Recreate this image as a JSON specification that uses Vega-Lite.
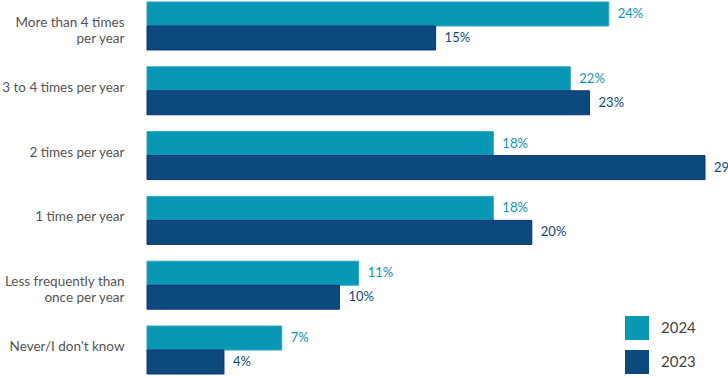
{
  "$schema": "https://vega.github.io/schema/vega-lite/v6.json",
  "width": 558,
  "height": 372,
  "autosize": {"type": "none"},
  "padding": {"left": 147, "top": 2, "right": 23, "bottom": 4},
  "background": "white",
  "config": {"view": {"stroke": null}, "font": "Lato"},
  "data": {
    "values": [
      {"cat": "More than 4 times|per year", "year": "2024", "v": 0.24},
      {"cat": "More than 4 times|per year", "year": "2023", "v": 0.15},
      {"cat": "3 to 4 times per year", "year": "2024", "v": 0.22},
      {"cat": "3 to 4 times per year", "year": "2023", "v": 0.23},
      {"cat": "2 times per year", "year": "2024", "v": 0.18},
      {"cat": "2 times per year", "year": "2023", "v": 0.29},
      {"cat": "1 time per year", "year": "2024", "v": 0.18},
      {"cat": "1 time per year", "year": "2023", "v": 0.20},
      {"cat": "Less frequently than|once per year", "year": "2024", "v": 0.11},
      {"cat": "Less frequently than|once per year", "year": "2023", "v": 0.10},
      {"cat": "Never/I don't know", "year": "2024", "v": 0.07},
      {"cat": "Never/I don't know", "year": "2023", "v": 0.04}
    ]
  },
  "encoding": {
    "y": {
      "field": "cat", "type": "nominal", "sort": null,
      "scale": {"paddingInner": 0.26, "paddingOuter": 0},
      "axis": {
        "title": null, "domain": false, "ticks": false,
        "labelPadding": 23, "labelFontSize": 13.5, "labelColor": "#555555",
        "labelFont": "Lato", "labelLineHeight": 16, "labelOffset": -3,
        "labelExpr": "split(datum.label, '|')"
      }
    },
    "yOffset": {"field": "year", "type": "nominal", "sort": ["2024", "2023"], "scale": {"paddingInner": 0}},
    "x": {
      "field": "v", "type": "quantitative",
      "scale": {"domain": [0, 0.29], "nice": false},
      "axis": null
    }
  },
  "layer": [
    {
      "mark": {"type": "bar", "strokeWidth": 1},
      "encoding": {
        "color": {
          "field": "year", "type": "nominal", "sort": ["2024", "2023"],
          "scale": {"domain": ["2024", "2023"], "range": ["#0897b4", "#0c4a7d"]},
          "legend": {
            "title": null, "orient": "none", "legendX": 478, "legendY": 314,
            "symbolType": "square", "symbolSize": 576, "symbolStrokeWidth": 0,
            "labelFontSize": 15, "labelFont": "Lato", "labelColor": "#444444",
            "labelOffset": 12, "rowPadding": 10
          }
        },
        "stroke": {
          "field": "year", "type": "nominal",
          "scale": {"domain": ["2024", "2023"], "range": ["#2aa5c0", "#12307a"]},
          "legend": null
        }
      }
    },
    {
      "mark": {"type": "text", "align": "left", "dx": 9, "fontSize": 13, "font": "Lato", "fontWeight": "normal"},
      "encoding": {
        "text": {"field": "v", "type": "quantitative", "format": ".0%"},
        "color": {
          "field": "year", "type": "nominal",
          "scale": {"domain": ["2024", "2023"], "range": ["#1a9cc0", "#1f3a6e"]},
          "legend": null
        }
      }
    }
  ]
}
